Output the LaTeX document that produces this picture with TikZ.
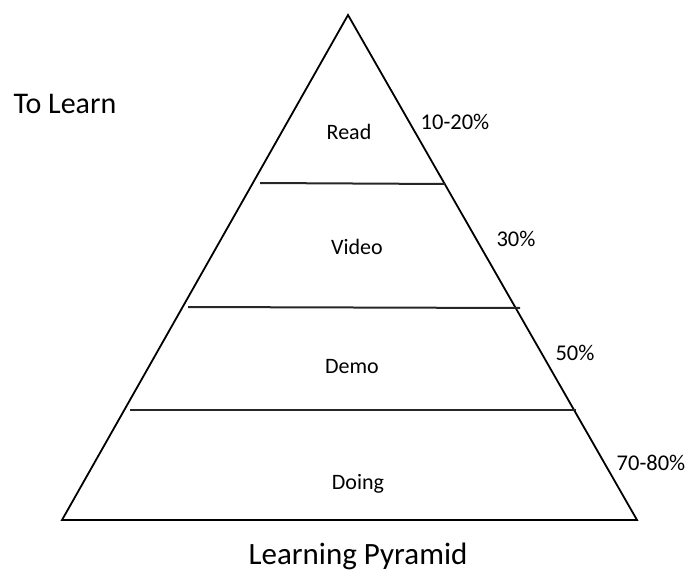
\documentclass[tikz,border=0pt]{standalone}
\usepackage{fontspec}
\setmainfont{Carlito}
\begin{document}
\begin{tikzpicture}[x=1pt,y=-1pt,
  edge/.style={line width=1.8pt,black,line join=miter},
  band/.style={line width=2pt,black!85},
  lbl/.style={font=\fontsize{22}{24}\selectfont,inner sep=0pt},
  pct/.style={font=\fontsize{22.5}{25}\selectfont,inner sep=0pt},
  big/.style={font=\fontsize{30}{32}\selectfont,inner sep=0pt},
  title/.style={font=\fontsize{31}{33}\selectfont,inner sep=0pt}]
\useasboundingbox (0,0) rectangle (690,580);
\coordinate (apex) at (348,15);
\coordinate (bl) at (62,520);
\coordinate (br) at (637,520);
\draw[edge] (bl) -- (apex) -- (br) -- cycle;
\coordinate (a1) at (260,183); \coordinate (b1) at (445,184);
\coordinate (a2) at (188,307); \coordinate (b2) at (520,308);
\coordinate (a3) at (130,410); \coordinate (b3) at (576,410);
\draw[band] (a1) -- (b1);
\draw[band] (a2) -- (b2);
\draw[band] (a3) -- (b3);
\node[lbl] (read) at (349,132) {Read};
\node[lbl] (video) at (357,247) {Video};
\node[lbl] (demo) at (352,367) {Demo};
\node[lbl] (doing) at (358,484) {Doing};
\node[pct] (p1) at (455,122) {10-20\%};
\node[pct] (p2) at (516,239) {30\%};
\node[pct] (p3) at (575,353) {50\%};
\node[pct] (p4) at (651,463) {70-80\%};
\node[big] (tl) at (65,104) {To Learn};
\node[title] (lp) at (358,556) {Learning Pyramid};
\end{tikzpicture}
\end{document}
